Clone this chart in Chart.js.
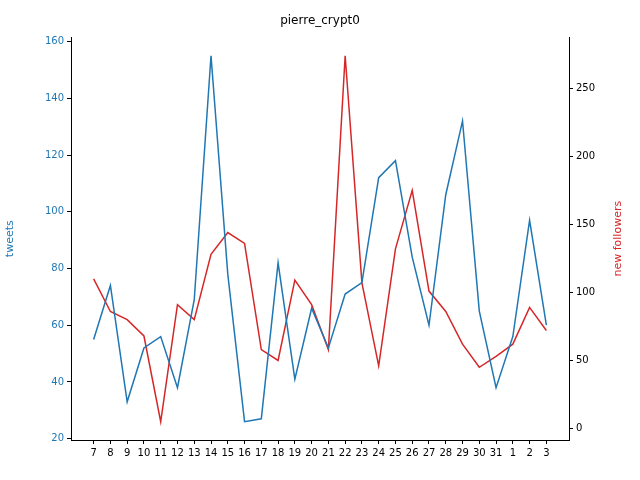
<!DOCTYPE html>
<html>
<head>
<script src="https://cdn.jsdelivr.net/npm/chart.js@4"></script>
<style>body{margin:0;background:#fff}#c{display:block}</style>
</head>
<body>
<canvas id="c" width="640" height="480"></canvas>
<script>
const days = ['7','8','9','10','11','12','13','14','15','16','17','18','19','20','21','22','23','24','25','26','27','28','29','30','31','1','2','3'];
const tweets = [55,74,33,52,56,38,69,155,78,26,27,82,41,66,52,71,75,112,118,84,60,106,132,65,38,56,97,60];
const followers = [110,86,80,68,5,91,80,128,144,136,58,50,109,91,58,274,107,46,132,175,101,86,62,45,53,62,89,72];
const tweetTicks = [20,40,60,80,100,120,140,160];
const followerTicks = [0,50,100,150,200,250];

const blue = '#1f77b4';
const red = '#d62728';
const font = { family: 'DejaVu Sans', size: 10 };

// right-hand axis title, rotated bottom-to-top like the original
const rightTitle = {
  id: 'rightTitle',
  afterDraw(chart) {
    const ctx = chart.ctx;
    const area = chart.chartArea;
    ctx.save();
    ctx.translate(618, (area.top + area.bottom) / 2);
    ctx.rotate(-Math.PI / 2);
    ctx.fillStyle = red;
    ctx.font = '11px "DejaVu Sans"';
    ctx.textAlign = 'center';
    ctx.textBaseline = 'middle';
    ctx.fillText('new followers', 0, 0);
    ctx.restore();
  }
};

new Chart(document.getElementById('c'), {
  type: 'line',
  data: {
    datasets: [
      { data: tweets.map((v, i) => ({ x: i, y: v })), borderColor: blue, borderWidth: 1.5, pointRadius: 0, yAxisID: 'y', tension: 0 },
      { data: followers.map((v, i) => ({ x: i, y: v })), borderColor: red, borderWidth: 1.5, pointRadius: 0, yAxisID: 'y1', tension: 0 }
    ]
  },
  options: {
    responsive: false,
    animation: false,
    layout: { padding: { top: 0, left: 0, right: 0, bottom: 18 } },
    plugins: {
      legend: { display: false },
      tooltip: { enabled: false },
      title: { display: true, text: 'pierre_crypt0', color: '#000', font: { family: 'DejaVu Sans', size: 12, weight: 'normal' }, padding: { top: 14, bottom: 9 } }
    },
    scales: {
      x: {
        type: 'linear', min: -1.35, max: 28.35,
        grid: { drawOnChartArea: false, tickLength: 4, color: '#000' },
        border: { color: '#000' },
        afterBuildTicks: axis => { axis.ticks = days.map((d, i) => ({ value: i })); },
        ticks: { color: '#000', font, autoSkip: false, maxRotation: 0, callback: (v) => days[v] }
      },
      y: {
        position: 'left', min: 19.55, max: 161.45,
        grid: { drawOnChartArea: false, tickLength: 4, color: '#000' },
        border: { color: '#000' },
        afterBuildTicks: axis => { axis.ticks = tweetTicks.map(v => ({ value: v })); },
        afterFit: a => { a.width = 71; },
        title: { display: true, text: 'tweets', color: blue, font: { family: 'DejaVu Sans', size: 11 } },
        ticks: { color: blue, font }
      },
      y1: {
        position: 'right', min: -8.45, max: 287.45,
        grid: { drawOnChartArea: false, tickLength: 4, color: '#000' },
        border: { color: '#000' },
        afterBuildTicks: axis => { axis.ticks = followerTicks.map(v => ({ value: v })); },
        afterFit: a => { a.width = 71; },
        ticks: { color: '#000', font }
      }
    }
  },
  plugins: [rightTitle]
});
</script>
</body>
</html>
